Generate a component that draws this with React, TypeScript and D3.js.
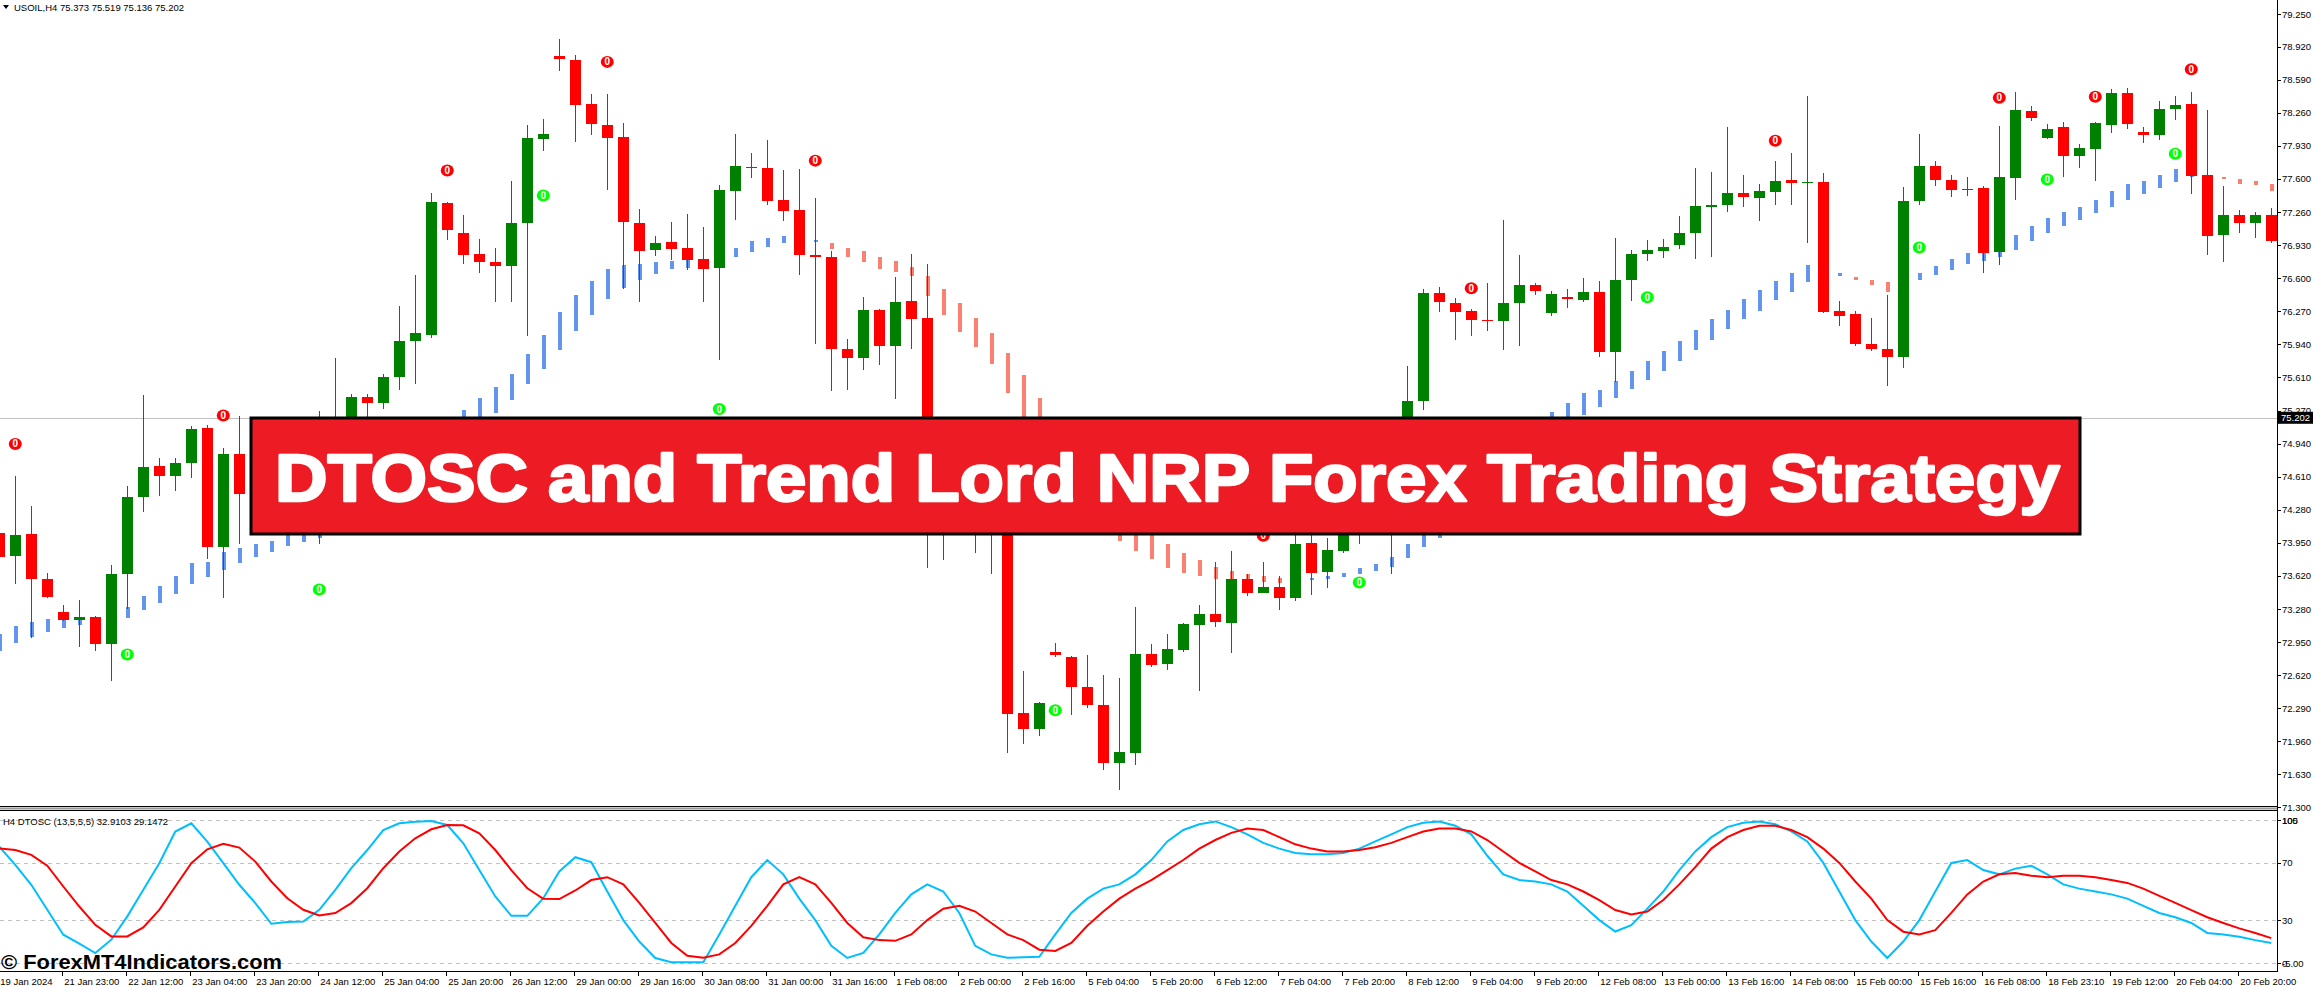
import React from "react";
import * as d3 from "d3";

const W = 2313;
const H = 988;

// ---- candle data (USOIL H4) ----
const opens = [74.05,73.82,74.04,73.59,73.25,73.17,73.20,72.93,73.635,74.41,74.72,74.62,74.75,75.10,73.91,74.84,74.44,74.70,74.55,74.80,75.00,74.60,75.10,75.41,75.35,75.61,75.97,76.03,77.36,77.05,76.84,76.765,76.72,77.15,78.00,78.826,78.79,78.35,78.14,78.02,77.155,76.88,76.96,76.90,76.79,76.70,77.48,77.72,77.705,77.39,77.29,76.83,76.81,75.89,75.80,76.28,75.92,76.37,76.20,74.30,74.60,74.40,74.60,74.20,72.245,72.085,72.85,72.80,72.50,72.32,71.745,71.84,72.83,72.73,72.87,73.12,73.23,73.14,73.59,73.45,73.51,73.40,73.95,73.655,73.87,74.30,74.20,74.50,74.90,75.37,76.45,76.35,76.27,76.185,76.17,76.35,76.53,76.255,76.41,76.38,76.46,75.86,76.58,76.84,76.87,76.93,77.05,77.32,77.34,77.46,77.41,77.47,77.59,77.56,77.57,76.27,76.24,75.94,75.89,75.81,77.38,77.725,77.59,77.50,77.51,76.86,77.61,78.28,78.01,78.12,77.83,77.90,78.14,78.46,78.07,78.04,78.30,78.35,77.64,77.03,77.235,77.15,77.235];
const highs = [74.25,74.62,74.32,73.65,73.33,73.38,73.21,73.73,74.52,75.43,74.80,74.80,75.12,75.13,74.90,75.22,74.85,74.80,74.95,75.10,75.27,75.80,75.44,75.44,75.64,76.32,76.63,77.46,77.37,77.235,76.99,76.90,77.575,78.14,78.20,79.00,78.84,78.45,78.45,78.155,77.30,77.02,77.165,77.245,77.11,77.54,78.05,77.86,77.99,77.685,77.695,77.41,76.87,75.99,76.41,76.29,76.61,76.84,76.74,74.70,74.80,74.75,74.80,74.30,72.665,72.35,72.94,72.81,72.82,72.62,72.59,73.31,72.93,73.03,73.14,73.33,73.76,73.87,73.635,73.755,73.615,74.10,74.10,74.00,74.50,74.50,74.60,75.00,75.72,76.49,76.51,76.40,76.29,76.55,77.185,76.83,76.55,76.47,76.49,76.60,76.57,77.00,76.88,76.98,76.99,77.225,77.705,77.665,78.12,77.635,77.55,77.775,77.86,78.43,77.655,76.37,76.275,76.205,76.43,77.52,78.05,77.775,77.635,77.615,77.53,78.13,78.47,78.33,78.145,78.17,77.95,78.17,78.50,78.51,78.12,78.38,78.43,78.47,78.29,77.53,77.29,77.27,77.31];
const lows = [73.65,73.54,72.99,73.40,73.16,72.90,72.86,72.56,73.28,74.26,74.42,74.47,74.60,73.79,73.40,73.94,74.30,74.40,74.45,74.70,73.94,74.50,74.90,75.10,75.29,75.48,75.54,76.00,76.98,76.745,76.655,76.36,76.36,76.02,77.88,78.675,77.97,78.04,77.49,76.49,76.36,76.82,76.78,76.68,76.36,75.78,77.18,77.61,77.34,77.17,76.63,75.94,75.47,75.48,75.685,75.735,75.39,75.89,73.70,73.78,74.10,73.85,73.64,71.84,71.93,72.01,72.80,72.22,72.29,71.675,71.47,71.725,72.70,72.675,72.85,72.46,73.105,72.84,73.42,73.45,73.27,73.37,73.43,73.50,73.85,73.94,74.10,73.64,74.80,75.28,76.26,75.98,76.02,76.07,75.88,75.92,76.43,76.22,76.30,76.36,75.81,75.56,76.37,76.77,76.80,76.89,76.79,76.815,77.26,77.32,77.17,77.34,77.34,76.95,76.255,76.125,75.92,75.87,75.52,75.70,77.34,77.53,77.42,77.43,76.65,76.73,77.39,78.18,77.998,77.615,77.705,77.575,78.06,78.10,77.96,77.99,78.19,77.45,76.83,76.76,77.05,77.00,76.95];
const closes = [73.81,74.03,73.59,73.41,73.17,73.205,72.93,73.635,74.41,74.71,74.62,74.75,75.09,73.91,74.84,74.44,74.70,74.55,74.80,75.00,74.60,75.10,75.41,75.35,75.61,75.97,76.05,77.37,77.08,76.83,76.76,76.72,77.155,78.01,78.05,78.796,78.34,78.145,78.01,77.16,76.87,76.95,76.89,76.78,76.69,77.49,77.725,77.71,77.38,77.28,76.83,76.815,75.89,75.80,76.28,75.92,76.36,76.19,74.30,74.60,74.40,74.60,74.20,72.23,72.08,72.34,72.82,72.50,72.32,71.745,71.85,72.83,72.72,72.88,73.135,73.23,73.15,73.59,73.45,73.51,73.40,73.94,73.65,73.88,74.30,74.20,74.50,74.90,75.37,76.45,76.36,76.26,76.18,76.17,76.35,76.53,76.47,76.44,76.40,76.46,75.86,76.58,76.84,76.88,76.91,77.05,77.33,77.34,77.46,77.42,77.48,77.58,77.56,77.57,76.26,76.225,75.94,75.89,75.81,77.38,77.725,77.59,77.49,77.495,76.85,77.615,78.29,78.21,78.10,77.83,77.91,78.16,78.46,78.15,78.04,78.30,78.34,77.625,77.02,77.235,77.15,77.235,76.97];

// ---- Trend Lord NRP histogram buffers ----
const trendHi = [73.03,73.11,73.155,73.18,73.18,73.18,73.17,73.195,73.31,73.42,73.52,73.62,73.75,73.76,73.86,73.90,73.94,73.97,74.03,74.04,74.10,74.20,74.32,74.45,74.58,74.72,74.87,75.03,75.15,75.28,75.40,75.51,75.64,75.84,76.03,76.26,76.43,76.57,76.695,76.73,76.745,76.765,76.775,76.78,76.78,76.84,76.90,76.97,77.00,77.02,77.01,76.988,76.95,76.90,76.87,76.81,76.77,76.715,76.625,76.49,76.35,76.205,76.05,75.85,75.63,75.40,75.15,74.90,74.65,74.40,74.25,74.12,74.08,73.94,73.85,73.78,73.71,73.665,73.635,73.615,73.60,73.595,73.60,73.615,73.65,73.695,73.735,73.81,73.94,74.06,74.18,74.30,74.45,74.60,74.75,74.88,75.02,75.26,75.35,75.45,75.48,75.57,75.675,75.775,75.87,75.975,76.08,76.19,76.285,76.39,76.48,76.57,76.655,76.73,76.695,76.655,76.615,76.585,76.56,76.56,76.655,76.725,76.79,76.855,76.855,76.907,77.03,77.125,77.205,77.265,77.32,77.39,77.48,77.545,77.575,77.635,77.695,77.685,77.635,77.614,77.594,77.575,77.545];
const trendLo = [72.86,72.94,73.00,73.05,73.09,73.12,73.13,73.145,73.195,73.27,73.35,73.44,73.54,73.61,73.675,73.75,73.81,73.86,73.92,73.96,74.00,74.07,74.16,74.28,74.40,74.52,74.65,74.80,74.95,75.10,75.20,75.25,75.38,75.54,75.695,75.88,76.07,76.235,76.39,76.50,76.58,76.64,76.69,76.705,76.73,76.76,76.81,76.86,76.91,76.95,76.96,76.978,76.89,76.81,76.76,76.69,76.665,76.625,76.42,76.235,76.06,75.91,75.74,75.45,75.15,74.90,74.65,74.40,74.20,74.05,73.97,73.87,73.79,73.70,73.65,73.62,73.585,73.585,73.575,73.56,73.55,73.585,73.59,73.585,73.61,73.64,73.67,73.71,73.80,73.91,74.00,74.10,74.22,74.36,74.50,74.65,74.80,75.08,75.15,75.23,75.31,75.40,75.49,75.585,75.675,75.775,75.88,75.98,76.09,76.19,76.275,76.38,76.46,76.56,76.60,76.62,76.585,76.53,76.46,76.55,76.58,76.63,76.68,76.74,76.77,76.815,76.88,76.97,77.05,77.12,77.18,77.25,77.32,77.39,77.45,77.51,77.565,77.615,77.61,77.594,77.55,77.535,77.48];
const trendDir = [1,1,1,1,1,1,1,1,1,1,1,1,1,1,1,1,1,1,1,1,1,1,1,1,1,1,1,1,1,1,1,1,1,1,1,1,1,1,1,1,1,1,1,1,1,1,1,1,1,1,1,1,-1,-1,-1,-1,-1,-1,-1,-1,-1,-1,-1,-1,-1,-1,-1,-1,-1,-1,-1,-1,-1,-1,-1,-1,-1,-1,-1,-1,-1,-1,1,1,1,1,1,1,1,1,1,1,1,1,1,1,1,1,1,1,1,1,1,1,1,1,1,1,1,1,1,1,1,1,1,1,-1,-1,-1,1,1,1,1,1,1,1,1,1,1,1,1,1,1,1,1,1,1,1,1,-1,-1,-1,-1];

// ---- DTOSC signals: [bar index, price level] ----
const sellSignals = [[1,74.94],[14,75.225],[28,77.68],[38,78.77],[51,77.78],[79,74.02],[92,76.50],[111,77.98],[125,78.41],[131,78.42],[137,78.695]];
const buySignals = [[8,72.83],[20,73.48],[34,77.43],[45,75.29],[66,72.27],[85,73.55],[103,76.41],[120,76.91],[128,77.59],[136,77.85]];

// ---- DTOSC oscillator ----
const oscFast = [81.4,68.6,54.7,37.2,19.8,13.5,7,16.3,32.6,51.2,69.8,91.9,97.7,84.9,69.8,54.7,41.9,27.4,28.6,29,37.2,51.2,66.3,79,93,97.7,98.8,99.3,96.5,83.7,65,46.5,33,33,45.3,64,74,70.5,50,30,15,3.5,0.5,0.5,0.5,20,40,60,72,62,45,30,12,3.5,7,20,35,48,55,50,35,12,6,3.7,4,4.4,20,35,45,52,55,62,72,85,93,97,99,95,90,84,80,77,76,76,77,80,85,90,95,98,99,96,90,75,62,58,57,55,50,40,30,22,26.5,38,50,65,78,88,95,98,99,97,92,85,70,50,30,15,3.5,15,30,50,70,72,65,62,66,68,62,55,52,50,48,45,40,35,32,28,21,20,18.4,16,14];
const oscSlow = [80.2,79,75.6,68,53.5,39.5,26.7,18.6,18.6,24.9,37.2,53.5,69.8,79.5,83.3,80.7,70.9,57,45.3,37.2,33.3,34.9,41.9,52.3,66.3,77.9,87.2,93.5,96.5,96.3,90.7,79,65,52.3,44.9,44.7,50.7,58,60,55,42,28,14,5,3.7,6,14,26,40,55,60,55,42,28,18,16,15.5,20,30,38,40,36,28,20,16,9.3,8.4,14,26,36,45,52,58,65,72,80,86,91,94,93,88,83,80,78,78,79,81,84,88,92,94,94,92,86,78,70,64,58,55,50,44,37,34,36,44,55,67,80,88,93,96,96,93,88,80,70,57,45,30,21.9,20,23,35,48,57,62,63,61,60,61,61,60,58,56,52,47,42,37,32,28,24.2,21,17.4];

// ---- axis labels ----
const priceTicks = ["79.250","78.920","78.590","78.260","77.930","77.600","77.260","76.930","76.600","76.270","75.940","75.610","75.270","74.940","74.610","74.280","73.950","73.620","73.280","72.950","72.620","72.290","71.960","71.630","71.300"];
const timeLabels = ["19 Jan 2024","21 Jan 23:00","22 Jan 12:00","23 Jan 04:00","23 Jan 20:00","24 Jan 12:00","25 Jan 04:00","25 Jan 20:00","26 Jan 12:00","29 Jan 00:00","29 Jan 16:00","30 Jan 08:00","31 Jan 00:00","31 Jan 16:00","1 Feb 08:00","2 Feb 00:00","2 Feb 16:00","5 Feb 04:00","5 Feb 20:00","6 Feb 12:00","7 Feb 04:00","7 Feb 20:00","8 Feb 12:00","9 Feb 04:00","9 Feb 20:00","12 Feb 08:00","13 Feb 00:00","13 Feb 16:00","14 Feb 08:00","15 Feb 00:00","15 Feb 16:00","16 Feb 08:00","18 Feb 23:10","19 Feb 12:00","20 Feb 04:00","20 Feb 20:00"];
const oscLevels = [100, 70, 30, 0];
const currentPrice = 75.202;

const FONT = "'Liberation Sans', Arial, sans-serif";

export default function App() {
  const n = closes.length;
  const plotRight = 2277;
  const x = d3.scaleLinear().domain([0, 142]).range([-0.7, 2271.3]);
  const y = d3.scaleLinear().domain([71.3, 79.25]).range([807, 14]);
  const yo = d3.scaleLinear().domain([0, 100]).range([963, 820]);
  const idx = d3.range(n);

  const lineFast = d3.line<number>().x((d, i) => x(i)).y((d) => yo(d));
  const lineSlow = d3.line<number>().x((d, i) => x(i)).y((d) => yo(d));

  const up = "#008000";
  const dn = "#FF0000";
  const py = y(currentPrice);

  return (
    <svg width={W} height={H} style={{ position: "absolute", left: 0, top: 0, background: "#fff" }} fontFamily={FONT}>
      <defs>
        <clipPath id="mainClip"><rect x={0} y={0} width={plotRight} height={806} /></clipPath>
        <clipPath id="oscClip"><rect x={0} y={812} width={plotRight} height={159} /></clipPath>
      </defs>
      <rect x={0} y={0} width={W} height={H} fill="#fff" />

      {/* current price line */}
      <line x1={0} x2={plotRight} y1={Math.round(py) + 0.5} y2={Math.round(py) + 0.5} stroke="#C0C0C0" strokeWidth={1} />

      <g clipPath="url(#mainClip)">
        {/* Trend Lord histogram */}
        {idx.map((i) => {
          const t = y(trendHi[i]);
          const b = y(trendLo[i]);
          const h = Math.max(2, b - t);
          return (
            <rect key={"t" + i} x={x(i) - 1.5} y={t} width={4} height={h}
              fill={trendDir[i] > 0 ? "#6495ED" : "#FA8072"} shapeRendering="crispEdges" />
          );
        })}
        {/* candles */}
        {idx.map((i) => {
          const o = opens[i], c = closes[i];
          const col = c >= o ? up : dn;
          const cx = Math.round(x(i)) + 0.5;
          const top = y(Math.max(o, c));
          const bot = y(Math.min(o, c));
          return (
            <g key={"c" + i} shapeRendering="crispEdges">
              <line x1={cx} x2={cx} y1={y(highs[i])} y2={y(lows[i])} stroke={col} strokeWidth={1} />
              <rect x={cx - 5.5} y={top} width={11} height={Math.max(1.5, bot - top)} fill={col} />
            </g>
          );
        })}
        {/* signals */}
        {sellSignals.map(([i, p]) => (
          <g key={"s" + i}>
            <ellipse cx={x(i)} cy={y(p)} rx={6.5} ry={6} fill="#FF0000" />
            <text x={x(i)} y={y(p) + 3.5} fontSize={10} fontWeight="bold" fill="#fff" textAnchor="middle">0</text>
          </g>
        ))}
        {buySignals.map(([i, p]) => (
          <g key={"b" + i}>
            <ellipse cx={x(i)} cy={y(p)} rx={6.5} ry={6} fill="#00FF00" />
            <text x={x(i)} y={y(p) + 3.5} fontSize={10} fontWeight="bold" fill="#fff" textAnchor="middle">0</text>
          </g>
        ))}
      </g>

      {/* header */}
      <polygon points="3,5 9,5 6,9" fill="#000" />
      <text x={14} y={11} fontSize={9.5} fill="#000">USOIL,H4  75.373 75.519 75.136 75.202</text>

      {/* panel separators */}
      <line x1={0} x2={plotRight} y1={806.5} y2={806.5} stroke="#000" strokeWidth={1} />
      <line x1={0} x2={plotRight} y1={808.5} y2={808.5} stroke="#9a9a9a" strokeWidth={2} />
      <line x1={0} x2={plotRight} y1={810.5} y2={810.5} stroke="#000" strokeWidth={1} />
      <line x1={0} x2={plotRight + 1} y1={971.5} y2={971.5} stroke="#000" strokeWidth={1} />
      <line x1={plotRight + 0.5} x2={plotRight + 0.5} y1={0} y2={972} stroke="#000" strokeWidth={1} />

      {/* price axis */}
      {priceTicks.map((t) => {
        const ty = y(+t);
        return (
          <g key={"p" + t}>
            <line x1={plotRight} x2={plotRight + 4} y1={Math.round(ty) + 0.5} y2={Math.round(ty) + 0.5} stroke="#000" />
            <text x={2282} y={ty + 3.5} fontSize={9.5} fill="#000">{t}</text>
          </g>
        );
      })}
      <rect x={2278} y={py - 6} width={35} height={12} fill="#000" />
      <text x={2281} y={py + 3.5} fontSize={9.5} fill="#fff">{currentPrice.toFixed(3)}</text>

      {/* oscillator */}
      {oscLevels.map((l) => (
        <line key={"l" + l} x1={0} x2={plotRight} y1={Math.round(yo(l)) + 0.5} y2={Math.round(yo(l)) + 0.5}
          stroke="#C0C0C0" strokeDasharray="4,4" />
      ))}
      <g clipPath="url(#oscClip)">
        <path d={lineFast(oscFast) || ""} fill="none" stroke="#00BFFF" strokeWidth={2} />
        <path d={lineSlow(oscSlow) || ""} fill="none" stroke="#FF0000" strokeWidth={2} />
      </g>
      <text x={3} y={825} fontSize={9.5} fill="#000">H4 DTOSC (13,5,5,5) 32.9103 29.1472</text>
      {oscLevels.map((l) => (
        <g key={"ol" + l}>
          <line x1={plotRight} x2={plotRight + 4} y1={Math.round(yo(l)) + 0.5} y2={Math.round(yo(l)) + 0.5} stroke="#000" />
          <text x={2282} y={yo(l) + 3.5} fontSize={9.5} fill="#000">{l}</text>
        </g>
      ))}
      <text x={2282} y={yo(100) + 3.5} fontSize={9.5} fill="#000">105</text>
      <text x={2282} y={yo(0) + 3.5} fontSize={9.5} fill="#000">-5.00</text>

      {/* time axis */}
      {timeLabels.map((t, k) => {
        const tx = x(k * 4) - 1;
        return (
          <g key={"tl" + k}>
            <line x1={Math.round(tx) + 0.5} x2={Math.round(tx) + 0.5} y1={972} y2={976} stroke="#000" />
            <text x={tx + 2} y={985} fontSize={9.5} fill="#000">{t}</text>
          </g>
        );
      })}

      {/* watermark */}
      <text x={1} y={969} fontSize={21} fontWeight="bold" fill="#000" textLength={281} lengthAdjust="spacingAndGlyphs">© ForexMT4Indicators.com</text>

      {/* banner */}
      <rect x={251} y={418} width={1829} height={116} fill="#ED1C24" stroke="#000" strokeWidth={3} />
      <text x={275} y={501} fontSize={66} fontWeight="bold" fill="#fff" stroke="#fff" strokeWidth={2.5}
        strokeLinejoin="round" textLength={1785} lengthAdjust="spacingAndGlyphs">
        DTOSC and Trend Lord NRP Forex Trading Strategy
      </text>
    </svg>
  );
}
